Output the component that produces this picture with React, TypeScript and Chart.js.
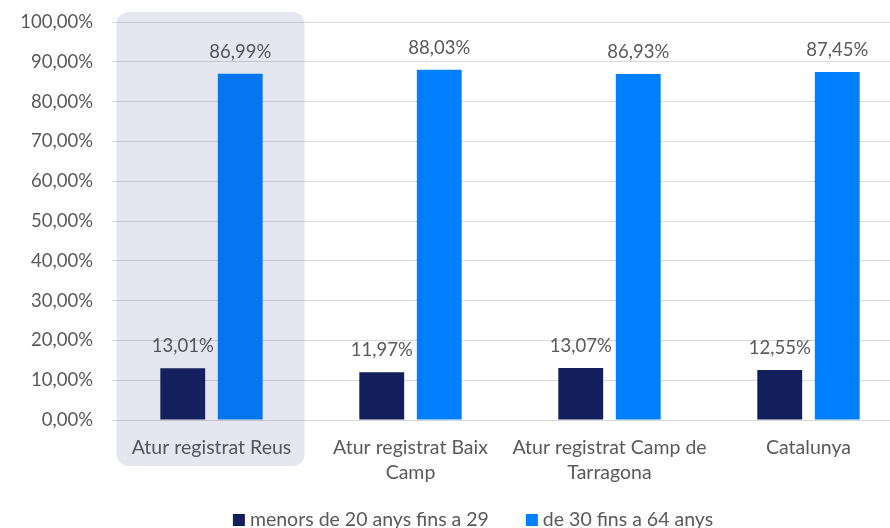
import React, { useEffect, useRef } from "react";
import { Chart, registerables } from "chart.js";

Chart.register(...registerables);

const categories: string[][] = [
  ["Atur registrat Reus"],
  ["Atur registrat Baix", "Camp"],
  ["Atur registrat Camp de", "Tarragona"],
  ["Catalunya"],
];
const youngLabel = "menors de 20 anys fins a 29";
const youngValues = [13.01, 11.97, 13.07, 12.55];
const adultLabel = "de 30 fins a 64 anys";
const adultValues = [86.99, 88.03, 86.93, 87.45];
const yTicks = [0, 10, 20, 30, 40, 50, 60, 70, 80, 90, 100];

const NAVY = "#131F5C";
const BLUE = "#0080FF";
const TEXT = "#595959";
const FONT = "Lato, 'Open Sans', sans-serif";

const fmt = (v: number) => v.toFixed(2).replace(".", ",") + "%";

const valueLabels = {
  id: "valueLabels",
  afterDatasetsDraw(chart: any) {
    const ctx = chart.ctx;
    ctx.save();
    ctx.font = `18.5px ${FONT}`;
    ctx.fillStyle = TEXT;
    ctx.textAlign = "center";
    ctx.textBaseline = "middle";
    chart.data.datasets.forEach((ds: any, di: number) => {
      const meta = chart.getDatasetMeta(di);
      meta.data.forEach((el: any, i: number) => {
        ctx.fillText(fmt(ds.data[i]), el.x, el.y - 22);
      });
    });
    ctx.restore();
  },
};

const bottomLegend = {
  id: "bottomLegend",
  afterDraw(chart: any) {
    const ctx = chart.ctx;
    const items = chart.data.datasets.map((ds: any) => ({
      text: ds.label as string,
      color: ds.backgroundColor as string,
    }));
    const box = 12;
    const textGap = 5;
    const itemGap = 37;
    ctx.save();
    ctx.font = `19.5px ${FONT}`;
    const widths = items.map(
      (it: any) => box + textGap + ctx.measureText(it.text).width
    );
    const total =
      widths.reduce((a: number, b: number) => a + b, 0) +
      itemGap * (items.length - 1);
    let x = chart.width / 2 - total / 2;
    const y = chart.chartArea.bottom + 100;
    ctx.textAlign = "left";
    ctx.textBaseline = "middle";
    items.forEach((it: any, i: number) => {
      ctx.fillStyle = it.color;
      ctx.fillRect(x, y - box / 2, box, box);
      ctx.fillStyle = TEXT;
      ctx.fillText(it.text, x + box + textGap, y);
      x += widths[i] + itemGap;
    });
    ctx.restore();
  },
};

const highlight = {
  id: "highlight",
  afterDraw(chart: any) {
    const x = chart.scales.x;
    const area = chart.chartArea;
    const cx = x.getPixelForValue(0);
    const left = cx - 95;
    const right = cx + 93;
    const top = area.top - 10;
    const bottom = area.bottom + 46;
    const ctx = chart.ctx;
    ctx.save();
    ctx.fillStyle = "rgba(45,50,120,0.12)";
    ctx.beginPath();
    if (ctx.roundRect) {
      ctx.roundRect(left, top, right - left, bottom - top, 12);
    } else {
      ctx.rect(left, top, right - left, bottom - top);
    }
    ctx.fill();
    ctx.restore();
  },
};

export default function App() {
  const ref = useRef<HTMLCanvasElement | null>(null);

  useEffect(() => {
    if (!ref.current) return;
    const chart = new Chart(ref.current, {
      type: "bar",
      data: {
        labels: categories as any,
        datasets: [
          {
            label: youngLabel,
            data: youngValues,
            backgroundColor: NAVY,
            categoryPercentage: 0.578,
            barPercentage: 0.78,
          },
          {
            label: adultLabel,
            data: adultValues,
            backgroundColor: BLUE,
            categoryPercentage: 0.578,
            barPercentage: 0.78,
          },
        ],
      },
      options: {
        responsive: false,
        animation: false,
        devicePixelRatio: 1,
        layout: { padding: { left: 0, right: 38, top: 22, bottom: 0 } },
        plugins: {
          tooltip: { enabled: false },
          legend: { display: false },
        },
        scales: {
          x: {
            grid: { display: false, drawTicks: false },
            border: { display: false },
            ticks: {
              color: TEXT,
              font: { family: FONT, size: 19.5, lineHeight: 1.28 },
              padding: 15,
              maxRotation: 0,
              autoSkip: false,
            },
            afterFit: (s: any) => {
              s.height = 125;
            },
          },
          y: {
            min: 0,
            max: 100,
            afterBuildTicks: (s: any) => {
              s.ticks = yTicks.map((v) => ({ value: v }));
            },
            grid: { color: "#D9D9D9", lineWidth: 1, drawTicks: false },
            border: { display: false },
            ticks: {
              color: TEXT,
              font: { family: FONT, size: 18.5 },
              padding: 19,
              callback: (v: any) => fmt(Number(v)),
            },
            afterFit: (s: any) => {
              s.width = 112;
              s.paddingTop = 0;
              s.paddingBottom = 0;
            },
          },
        },
      },
      plugins: [valueLabels, highlight, bottomLegend],
    });
    return () => chart.destroy();
  }, []);

  return (
    <div
      style={{
        position: "fixed",
        left: 0,
        top: 0,
        width: 890,
        height: 528,
        overflow: "hidden",
        background: "#fff",
      }}
    >
      <canvas ref={ref} width={946} height={545} />
    </div>
  );
}
